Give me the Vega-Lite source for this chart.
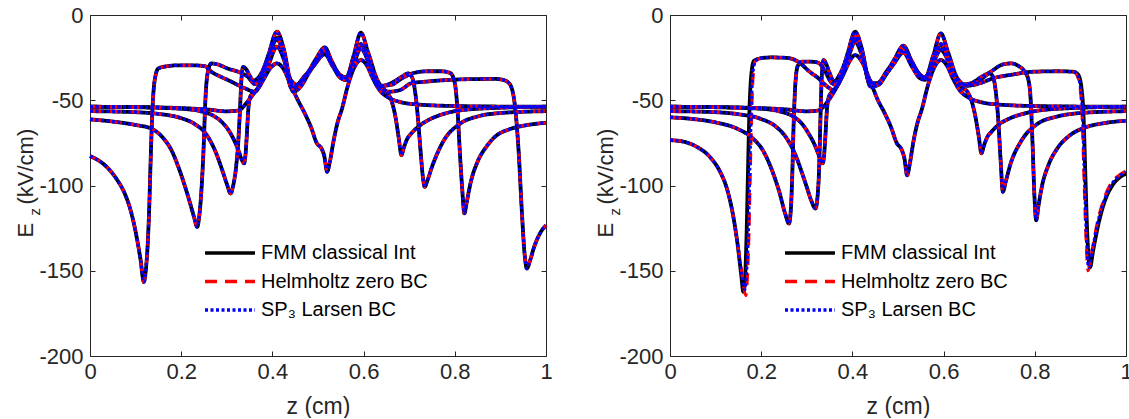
{
  "$schema": "https://vega.github.io/schema/vega-lite/v6.json",
  "padding": {"left": 14, "top": 4, "right": 0, "bottom": 0},
  "background": "white",
  "config": {
    "font": "Liberation Sans",
    "view": {"stroke": null},
    "axis": {"grid": false, "domainColor": "#262626", "tickColor": "#262626", "labelColor": "#262626", "titleColor": "#262626", "labelFont": "Liberation Sans", "titleFont": "Liberation Sans", "labelFontSize": 22, "titleFontSize": 23, "titleFontWeight": "normal", "tickSize": -5, "domainWidth": 1, "tickWidth": 1, "labelFlush": false, "labelOverlap": false}
  },
  "datasets": {
    "curves": [
      {"panel":"L","snap":0,"z":0,"fmm":-53.8,"helm":-53.8,"sp3":-53.8},
      {"panel":"L","snap":0,"z":0.1,"fmm":-54,"helm":-54,"sp3":-54},
      {"panel":"L","snap":0,"z":0.2,"fmm":-54.6,"helm":-54.6,"sp3":-54.6},
      {"panel":"L","snap":0,"z":0.26,"fmm":-55.5,"helm":-55.5,"sp3":-55.5},
      {"panel":"L","snap":0,"z":0.3,"fmm":-56.5,"helm":-56.5,"sp3":-56.5},
      {"panel":"L","snap":0,"z":0.325,"fmm":-56,"helm":-56,"sp3":-56},
      {"panel":"L","snap":0,"z":0.345,"fmm":-51,"helm":-51,"sp3":-51},
      {"panel":"L","snap":0,"z":0.362,"fmm":-45,"helm":-45,"sp3":-45},
      {"panel":"L","snap":0,"z":0.38,"fmm":-38,"helm":-38,"sp3":-38},
      {"panel":"L","snap":0,"z":0.396,"fmm":-31,"helm":-31,"sp3":-31},
      {"panel":"L","snap":0,"z":0.41,"fmm":-28.4,"helm":-28.4,"sp3":-28.4},
      {"panel":"L","snap":0,"z":0.424,"fmm":-31.5,"helm":-31.5,"sp3":-31.5},
      {"panel":"L","snap":0,"z":0.44,"fmm":-41,"helm":-41,"sp3":-41},
      {"panel":"L","snap":0,"z":0.456,"fmm":-50,"helm":-50,"sp3":-50},
      {"panel":"L","snap":0,"z":0.471,"fmm":-57.7,"helm":-57.7,"sp3":-57.7},
      {"panel":"L","snap":0,"z":0.485,"fmm":-66,"helm":-66,"sp3":-66},
      {"panel":"L","snap":0,"z":0.497,"fmm":-75,"helm":-75,"sp3":-75},
      {"panel":"L","snap":0,"z":0.508,"fmm":-78.5,"helm":-78.5,"sp3":-78.5},
      {"panel":"L","snap":0,"z":0.514,"fmm":-83,"helm":-83,"sp3":-83},
      {"panel":"L","snap":0,"z":0.52,"fmm":-92,"helm":-92,"sp3":-92},
      {"panel":"L","snap":0,"z":0.526,"fmm":-86,"helm":-86,"sp3":-86},
      {"panel":"L","snap":0,"z":0.534,"fmm":-74,"helm":-74,"sp3":-74},
      {"panel":"L","snap":0,"z":0.543,"fmm":-63,"helm":-63,"sp3":-63},
      {"panel":"L","snap":0,"z":0.552,"fmm":-55.5,"helm":-55.5,"sp3":-55.5},
      {"panel":"L","snap":0,"z":0.567,"fmm":-40,"helm":-40,"sp3":-40},
      {"panel":"L","snap":0,"z":0.58,"fmm":-30.5,"helm":-30.5,"sp3":-30.5},
      {"panel":"L","snap":0,"z":0.594,"fmm":-26.4,"helm":-26.4,"sp3":-26.4},
      {"panel":"L","snap":0,"z":0.607,"fmm":-29.5,"helm":-29.5,"sp3":-29.5},
      {"panel":"L","snap":0,"z":0.62,"fmm":-37,"helm":-37,"sp3":-37},
      {"panel":"L","snap":0,"z":0.635,"fmm":-44,"helm":-44,"sp3":-44},
      {"panel":"L","snap":0,"z":0.655,"fmm":-48.5,"helm":-48.5,"sp3":-48.5},
      {"panel":"L","snap":0,"z":0.68,"fmm":-51,"helm":-51,"sp3":-51},
      {"panel":"L","snap":0,"z":0.72,"fmm":-52.5,"helm":-52.5,"sp3":-52.5},
      {"panel":"L","snap":0,"z":0.8,"fmm":-53.4,"helm":-53.4,"sp3":-53.4},
      {"panel":"L","snap":0,"z":0.9,"fmm":-53.7,"helm":-53.7,"sp3":-53.7},
      {"panel":"L","snap":0,"z":1,"fmm":-53.8,"helm":-53.8,"sp3":-53.8},

      {"panel":"L","snap":1,"z":0,"fmm":-53.8,"helm":-53.8,"sp3":-53.8},
      {"panel":"L","snap":1,"z":0.1,"fmm":-54.1,"helm":-54.1,"sp3":-54.1},
      {"panel":"L","snap":1,"z":0.2,"fmm":-55,"helm":-55,"sp3":-55},
      {"panel":"L","snap":1,"z":0.24,"fmm":-56.3,"helm":-56.3,"sp3":-56.3},
      {"panel":"L","snap":1,"z":0.27,"fmm":-59,"helm":-59,"sp3":-59},
      {"panel":"L","snap":1,"z":0.29,"fmm":-63,"helm":-63,"sp3":-63},
      {"panel":"L","snap":1,"z":0.305,"fmm":-68,"helm":-68,"sp3":-68},
      {"panel":"L","snap":1,"z":0.317,"fmm":-74,"helm":-74,"sp3":-74},
      {"panel":"L","snap":1,"z":0.327,"fmm":-80.5,"helm":-80.5,"sp3":-80.5},
      {"panel":"L","snap":1,"z":0.333,"fmm":-85,"helm":-85,"sp3":-85},
      {"panel":"L","snap":1,"z":0.338,"fmm":-87,"helm":-87,"sp3":-87},
      {"panel":"L","snap":1,"z":0.341,"fmm":-82,"helm":-82,"sp3":-82},
      {"panel":"L","snap":1,"z":0.344,"fmm":-70,"helm":-70,"sp3":-70},
      {"panel":"L","snap":1,"z":0.347,"fmm":-56,"helm":-56,"sp3":-56},
      {"panel":"L","snap":1,"z":0.352,"fmm":-47.5,"helm":-47.5,"sp3":-47.5},
      {"panel":"L","snap":1,"z":0.362,"fmm":-45,"helm":-45,"sp3":-45},
      {"panel":"L","snap":1,"z":0.376,"fmm":-40,"helm":-40,"sp3":-40},
      {"panel":"L","snap":1,"z":0.392,"fmm":-29,"helm":-29,"sp3":-29},
      {"panel":"L","snap":1,"z":0.41,"fmm":-18.6,"helm":-18.6,"sp3":-18.6},
      {"panel":"L","snap":1,"z":0.425,"fmm":-26,"helm":-26,"sp3":-26},
      {"panel":"L","snap":1,"z":0.44,"fmm":-40,"helm":-40,"sp3":-40},
      {"panel":"L","snap":1,"z":0.452,"fmm":-41,"helm":-41,"sp3":-41},
      {"panel":"L","snap":1,"z":0.47,"fmm":-36,"helm":-36,"sp3":-36},
      {"panel":"L","snap":1,"z":0.49,"fmm":-30,"helm":-30,"sp3":-30},
      {"panel":"L","snap":1,"z":0.515,"fmm":-23,"helm":-23,"sp3":-23},
      {"panel":"L","snap":1,"z":0.532,"fmm":-30,"helm":-30,"sp3":-30},
      {"panel":"L","snap":1,"z":0.55,"fmm":-37,"helm":-37,"sp3":-37},
      {"panel":"L","snap":1,"z":0.562,"fmm":-38,"helm":-38,"sp3":-38},
      {"panel":"L","snap":1,"z":0.578,"fmm":-29,"helm":-29,"sp3":-29},
      {"panel":"L","snap":1,"z":0.594,"fmm":-19.6,"helm":-19.6,"sp3":-19.6},
      {"panel":"L","snap":1,"z":0.61,"fmm":-27,"helm":-27,"sp3":-27},
      {"panel":"L","snap":1,"z":0.625,"fmm":-37,"helm":-37,"sp3":-37},
      {"panel":"L","snap":1,"z":0.64,"fmm":-43,"helm":-43,"sp3":-43},
      {"panel":"L","snap":1,"z":0.652,"fmm":-45.5,"helm":-45.5,"sp3":-45.5},
      {"panel":"L","snap":1,"z":0.662,"fmm":-51,"helm":-51,"sp3":-51},
      {"panel":"L","snap":1,"z":0.67,"fmm":-60,"helm":-60,"sp3":-60},
      {"panel":"L","snap":1,"z":0.677,"fmm":-72,"helm":-72,"sp3":-72},
      {"panel":"L","snap":1,"z":0.683,"fmm":-82.2,"helm":-82.2,"sp3":-82.2},
      {"panel":"L","snap":1,"z":0.688,"fmm":-78,"helm":-78,"sp3":-78},
      {"panel":"L","snap":1,"z":0.695,"fmm":-73,"helm":-73,"sp3":-73},
      {"panel":"L","snap":1,"z":0.705,"fmm":-69.4,"helm":-69.4,"sp3":-69.4},
      {"panel":"L","snap":1,"z":0.72,"fmm":-65.5,"helm":-65.5,"sp3":-65.5},
      {"panel":"L","snap":1,"z":0.742,"fmm":-61.6,"helm":-61.6,"sp3":-61.6},
      {"panel":"L","snap":1,"z":0.77,"fmm":-58.5,"helm":-58.5,"sp3":-58.5},
      {"panel":"L","snap":1,"z":0.815,"fmm":-55.8,"helm":-55.8,"sp3":-55.8},
      {"panel":"L","snap":1,"z":0.9,"fmm":-54.4,"helm":-54.4,"sp3":-54.4},
      {"panel":"L","snap":1,"z":1,"fmm":-53.8,"helm":-53.8,"sp3":-53.8},

      {"panel":"L","snap":2,"z":0,"fmm":-56.4,"helm":-56.4,"sp3":-56.4},
      {"panel":"L","snap":2,"z":0.1,"fmm":-57,"helm":-57,"sp3":-57},
      {"panel":"L","snap":2,"z":0.15,"fmm":-58,"helm":-58,"sp3":-58},
      {"panel":"L","snap":2,"z":0.2,"fmm":-60.5,"helm":-60.5,"sp3":-60.5},
      {"panel":"L","snap":2,"z":0.23,"fmm":-64,"helm":-64,"sp3":-64},
      {"panel":"L","snap":2,"z":0.255,"fmm":-70,"helm":-70,"sp3":-70},
      {"panel":"L","snap":2,"z":0.275,"fmm":-80,"helm":-80,"sp3":-80},
      {"panel":"L","snap":2,"z":0.29,"fmm":-91,"helm":-91,"sp3":-91},
      {"panel":"L","snap":2,"z":0.3,"fmm":-99,"helm":-99,"sp3":-99},
      {"panel":"L","snap":2,"z":0.3085,"fmm":-104.7,"helm":-104.7,"sp3":-104.7},
      {"panel":"L","snap":2,"z":0.314,"fmm":-100,"helm":-100,"sp3":-100},
      {"panel":"L","snap":2,"z":0.32,"fmm":-90,"helm":-90,"sp3":-90},
      {"panel":"L","snap":2,"z":0.325,"fmm":-75,"helm":-75,"sp3":-75},
      {"panel":"L","snap":2,"z":0.329,"fmm":-55,"helm":-55,"sp3":-55},
      {"panel":"L","snap":2,"z":0.332,"fmm":-38,"helm":-38,"sp3":-38},
      {"panel":"L","snap":2,"z":0.336,"fmm":-30.5,"helm":-30.5,"sp3":-30.5},
      {"panel":"L","snap":2,"z":0.343,"fmm":-32,"helm":-32,"sp3":-32},
      {"panel":"L","snap":2,"z":0.35,"fmm":-35.5,"helm":-35.5,"sp3":-35.5},
      {"panel":"L","snap":2,"z":0.358,"fmm":-38.5,"helm":-38.5,"sp3":-38.5},
      {"panel":"L","snap":2,"z":0.37,"fmm":-36.5,"helm":-36.5,"sp3":-36.5},
      {"panel":"L","snap":2,"z":0.388,"fmm":-27,"helm":-27,"sp3":-27},
      {"panel":"L","snap":2,"z":0.41,"fmm":-14.3,"helm":-14.3,"sp3":-14.3},
      {"panel":"L","snap":2,"z":0.425,"fmm":-23,"helm":-23,"sp3":-23},
      {"panel":"L","snap":2,"z":0.442,"fmm":-43,"helm":-43,"sp3":-43},
      {"panel":"L","snap":2,"z":0.46,"fmm":-40,"helm":-40,"sp3":-40},
      {"panel":"L","snap":2,"z":0.48,"fmm":-33,"helm":-33,"sp3":-33},
      {"panel":"L","snap":2,"z":0.5,"fmm":-26,"helm":-26,"sp3":-26},
      {"panel":"L","snap":2,"z":0.515,"fmm":-21,"helm":-21,"sp3":-21},
      {"panel":"L","snap":2,"z":0.53,"fmm":-28.5,"helm":-28.5,"sp3":-28.5},
      {"panel":"L","snap":2,"z":0.548,"fmm":-35.5,"helm":-35.5,"sp3":-35.5},
      {"panel":"L","snap":2,"z":0.562,"fmm":-37,"helm":-37,"sp3":-37},
      {"panel":"L","snap":2,"z":0.578,"fmm":-27,"helm":-27,"sp3":-27},
      {"panel":"L","snap":2,"z":0.594,"fmm":-17.6,"helm":-17.6,"sp3":-17.6},
      {"panel":"L","snap":2,"z":0.61,"fmm":-26,"helm":-26,"sp3":-26},
      {"panel":"L","snap":2,"z":0.632,"fmm":-42,"helm":-42,"sp3":-42},
      {"panel":"L","snap":2,"z":0.66,"fmm":-40,"helm":-40,"sp3":-40},
      {"panel":"L","snap":2,"z":0.685,"fmm":-36,"helm":-36,"sp3":-36},
      {"panel":"L","snap":2,"z":0.698,"fmm":-34.2,"helm":-34.2,"sp3":-34.2},
      {"panel":"L","snap":2,"z":0.707,"fmm":-37,"helm":-37,"sp3":-37},
      {"panel":"L","snap":2,"z":0.713,"fmm":-45,"helm":-45,"sp3":-45},
      {"panel":"L","snap":2,"z":0.719,"fmm":-60,"helm":-60,"sp3":-60},
      {"panel":"L","snap":2,"z":0.725,"fmm":-80,"helm":-80,"sp3":-80},
      {"panel":"L","snap":2,"z":0.73,"fmm":-95,"helm":-95,"sp3":-95},
      {"panel":"L","snap":2,"z":0.734,"fmm":-100.8,"helm":-100.8,"sp3":-100.8},
      {"panel":"L","snap":2,"z":0.74,"fmm":-97,"helm":-97,"sp3":-97},
      {"panel":"L","snap":2,"z":0.75,"fmm":-89,"helm":-89,"sp3":-89},
      {"panel":"L","snap":2,"z":0.775,"fmm":-74,"helm":-74,"sp3":-74},
      {"panel":"L","snap":2,"z":0.81,"fmm":-64,"helm":-64,"sp3":-64},
      {"panel":"L","snap":2,"z":0.85,"fmm":-59.5,"helm":-59.5,"sp3":-59.5},
      {"panel":"L","snap":2,"z":0.9,"fmm":-57.5,"helm":-57.5,"sp3":-57.5},
      {"panel":"L","snap":2,"z":1,"fmm":-56.4,"helm":-56.4,"sp3":-56.4},

      {"panel":"L","snap":3,"z":0,"fmm":-61.2,"helm":-61.2,"sp3":-61.2},
      {"panel":"L","snap":3,"z":0.05,"fmm":-62.5,"helm":-62.5,"sp3":-62.5},
      {"panel":"L","snap":3,"z":0.1,"fmm":-64.5,"helm":-64.5,"sp3":-64.5},
      {"panel":"L","snap":3,"z":0.133,"fmm":-66.5,"helm":-66.5,"sp3":-66.5},
      {"panel":"L","snap":3,"z":0.16,"fmm":-72,"helm":-72,"sp3":-72},
      {"panel":"L","snap":3,"z":0.18,"fmm":-80,"helm":-80,"sp3":-80},
      {"panel":"L","snap":3,"z":0.195,"fmm":-90,"helm":-90,"sp3":-90},
      {"panel":"L","snap":3,"z":0.206,"fmm":-98.6,"helm":-98.6,"sp3":-98.6},
      {"panel":"L","snap":3,"z":0.218,"fmm":-109,"helm":-109,"sp3":-109},
      {"panel":"L","snap":3,"z":0.228,"fmm":-118.4,"helm":-118.4,"sp3":-118.4},
      {"panel":"L","snap":3,"z":0.235,"fmm":-124.3,"helm":-124.3,"sp3":-124.3},
      {"panel":"L","snap":3,"z":0.24,"fmm":-117,"helm":-117,"sp3":-117},
      {"panel":"L","snap":3,"z":0.245,"fmm":-100,"helm":-100,"sp3":-100},
      {"panel":"L","snap":3,"z":0.249,"fmm":-79,"helm":-79,"sp3":-79},
      {"panel":"L","snap":3,"z":0.253,"fmm":-50,"helm":-50,"sp3":-50},
      {"panel":"L","snap":3,"z":0.258,"fmm":-34,"helm":-34,"sp3":-34},
      {"panel":"L","snap":3,"z":0.266,"fmm":-28.4,"helm":-28.4,"sp3":-28.4},
      {"panel":"L","snap":3,"z":0.28,"fmm":-29,"helm":-29,"sp3":-29},
      {"panel":"L","snap":3,"z":0.303,"fmm":-31.5,"helm":-31.5,"sp3":-31.5},
      {"panel":"L","snap":3,"z":0.325,"fmm":-33.3,"helm":-33.3,"sp3":-33.3},
      {"panel":"L","snap":3,"z":0.345,"fmm":-36,"helm":-36,"sp3":-36},
      {"panel":"L","snap":3,"z":0.362,"fmm":-40.5,"helm":-40.5,"sp3":-40.5},
      {"panel":"L","snap":3,"z":0.376,"fmm":-35,"helm":-35,"sp3":-35},
      {"panel":"L","snap":3,"z":0.392,"fmm":-23,"helm":-23,"sp3":-23},
      {"panel":"L","snap":3,"z":0.41,"fmm":-13.5,"helm":-13.5,"sp3":-13.5},
      {"panel":"L","snap":3,"z":0.425,"fmm":-22,"helm":-22,"sp3":-22},
      {"panel":"L","snap":3,"z":0.446,"fmm":-45,"helm":-45,"sp3":-45},
      {"panel":"L","snap":3,"z":0.462,"fmm":-42,"helm":-42,"sp3":-42},
      {"panel":"L","snap":3,"z":0.48,"fmm":-34,"helm":-34,"sp3":-34},
      {"panel":"L","snap":3,"z":0.5,"fmm":-26,"helm":-26,"sp3":-26},
      {"panel":"L","snap":3,"z":0.515,"fmm":-20,"helm":-20,"sp3":-20},
      {"panel":"L","snap":3,"z":0.53,"fmm":-28,"helm":-28,"sp3":-28},
      {"panel":"L","snap":3,"z":0.548,"fmm":-36,"helm":-36,"sp3":-36},
      {"panel":"L","snap":3,"z":0.56,"fmm":-38,"helm":-38,"sp3":-38},
      {"panel":"L","snap":3,"z":0.577,"fmm":-28,"helm":-28,"sp3":-28},
      {"panel":"L","snap":3,"z":0.594,"fmm":-17,"helm":-17,"sp3":-17},
      {"panel":"L","snap":3,"z":0.61,"fmm":-27,"helm":-27,"sp3":-27},
      {"panel":"L","snap":3,"z":0.635,"fmm":-41.5,"helm":-41.5,"sp3":-41.5},
      {"panel":"L","snap":3,"z":0.66,"fmm":-41,"helm":-41,"sp3":-41},
      {"panel":"L","snap":3,"z":0.685,"fmm":-37,"helm":-37,"sp3":-37},
      {"panel":"L","snap":3,"z":0.71,"fmm":-34,"helm":-34,"sp3":-34},
      {"panel":"L","snap":3,"z":0.74,"fmm":-33,"helm":-33,"sp3":-33},
      {"panel":"L","snap":3,"z":0.77,"fmm":-33,"helm":-33,"sp3":-33},
      {"panel":"L","snap":3,"z":0.79,"fmm":-34,"helm":-34,"sp3":-34},
      {"panel":"L","snap":3,"z":0.8,"fmm":-40,"helm":-40,"sp3":-40},
      {"panel":"L","snap":3,"z":0.806,"fmm":-56,"helm":-56,"sp3":-56},
      {"panel":"L","snap":3,"z":0.811,"fmm":-80,"helm":-80,"sp3":-80},
      {"panel":"L","snap":3,"z":0.816,"fmm":-101,"helm":-101,"sp3":-101},
      {"panel":"L","snap":3,"z":0.821,"fmm":-116.4,"helm":-116.4,"sp3":-116.4},
      {"panel":"L","snap":3,"z":0.826,"fmm":-110,"helm":-110,"sp3":-110},
      {"panel":"L","snap":3,"z":0.835,"fmm":-98,"helm":-98,"sp3":-98},
      {"panel":"L","snap":3,"z":0.85,"fmm":-86,"helm":-86,"sp3":-86},
      {"panel":"L","snap":3,"z":0.87,"fmm":-77,"helm":-77,"sp3":-77},
      {"panel":"L","snap":3,"z":0.89,"fmm":-71,"helm":-71,"sp3":-71},
      {"panel":"L","snap":3,"z":0.92,"fmm":-67,"helm":-67,"sp3":-67},
      {"panel":"L","snap":3,"z":0.96,"fmm":-64.5,"helm":-64.5,"sp3":-64.5},
      {"panel":"L","snap":3,"z":1,"fmm":-63.2,"helm":-63.2,"sp3":-63.2},

      {"panel":"L","snap":4,"z":0,"fmm":-82.8,"helm":-82.8,"sp3":-82.8},
      {"panel":"L","snap":4,"z":0.02,"fmm":-85.5,"helm":-85.5,"sp3":-85.5},
      {"panel":"L","snap":4,"z":0.04,"fmm":-90,"helm":-90,"sp3":-90},
      {"panel":"L","snap":4,"z":0.06,"fmm":-96.9,"helm":-96.9,"sp3":-96.9},
      {"panel":"L","snap":4,"z":0.075,"fmm":-104,"helm":-104,"sp3":-104},
      {"panel":"L","snap":4,"z":0.089,"fmm":-114.5,"helm":-114.5,"sp3":-114.5},
      {"panel":"L","snap":4,"z":0.1,"fmm":-127,"helm":-127,"sp3":-127},
      {"panel":"L","snap":4,"z":0.111,"fmm":-143.8,"helm":-143.8,"sp3":-143.8},
      {"panel":"L","snap":4,"z":0.118,"fmm":-156.6,"helm":-156.6,"sp3":-156.6},
      {"panel":"L","snap":4,"z":0.123,"fmm":-148,"helm":-148,"sp3":-148},
      {"panel":"L","snap":4,"z":0.127,"fmm":-132,"helm":-132,"sp3":-132},
      {"panel":"L","snap":4,"z":0.13,"fmm":-112,"helm":-112,"sp3":-112},
      {"panel":"L","snap":4,"z":0.133,"fmm":-85,"helm":-85,"sp3":-85},
      {"panel":"L","snap":4,"z":0.137,"fmm":-55,"helm":-55,"sp3":-55},
      {"panel":"L","snap":4,"z":0.142,"fmm":-38,"helm":-38,"sp3":-38},
      {"panel":"L","snap":4,"z":0.15,"fmm":-31.3,"helm":-31.3,"sp3":-31.3},
      {"panel":"L","snap":4,"z":0.17,"fmm":-30,"helm":-30,"sp3":-30},
      {"panel":"L","snap":4,"z":0.194,"fmm":-29.5,"helm":-29.5,"sp3":-29.5},
      {"panel":"L","snap":4,"z":0.225,"fmm":-29.5,"helm":-29.5,"sp3":-29.5},
      {"panel":"L","snap":4,"z":0.252,"fmm":-30,"helm":-30,"sp3":-30},
      {"panel":"L","snap":4,"z":0.266,"fmm":-33.3,"helm":-33.3,"sp3":-33.3},
      {"panel":"L","snap":4,"z":0.285,"fmm":-36,"helm":-36,"sp3":-36},
      {"panel":"L","snap":4,"z":0.303,"fmm":-38.2,"helm":-38.2,"sp3":-38.2},
      {"panel":"L","snap":4,"z":0.34,"fmm":-43,"helm":-43,"sp3":-43},
      {"panel":"L","snap":4,"z":0.361,"fmm":-45,"helm":-45,"sp3":-45},
      {"panel":"L","snap":4,"z":0.376,"fmm":-39,"helm":-39,"sp3":-39},
      {"panel":"L","snap":4,"z":0.392,"fmm":-23,"helm":-23,"sp3":-23},
      {"panel":"L","snap":4,"z":0.41,"fmm":-9.8,"helm":-9.8,"sp3":-9.8},
      {"panel":"L","snap":4,"z":0.425,"fmm":-20,"helm":-20,"sp3":-20},
      {"panel":"L","snap":4,"z":0.44,"fmm":-38,"helm":-38,"sp3":-38},
      {"panel":"L","snap":4,"z":0.455,"fmm":-41,"helm":-41,"sp3":-41},
      {"panel":"L","snap":4,"z":0.475,"fmm":-35,"helm":-35,"sp3":-35},
      {"panel":"L","snap":4,"z":0.495,"fmm":-26,"helm":-26,"sp3":-26},
      {"panel":"L","snap":4,"z":0.515,"fmm":-19,"helm":-19,"sp3":-19},
      {"panel":"L","snap":4,"z":0.53,"fmm":-27,"helm":-27,"sp3":-27},
      {"panel":"L","snap":4,"z":0.548,"fmm":-35,"helm":-35,"sp3":-35},
      {"panel":"L","snap":4,"z":0.562,"fmm":-36.5,"helm":-36.5,"sp3":-36.5},
      {"panel":"L","snap":4,"z":0.578,"fmm":-24,"helm":-24,"sp3":-24},
      {"panel":"L","snap":4,"z":0.594,"fmm":-10.4,"helm":-10.4,"sp3":-10.4},
      {"panel":"L","snap":4,"z":0.61,"fmm":-22,"helm":-22,"sp3":-22},
      {"panel":"L","snap":4,"z":0.63,"fmm":-38,"helm":-38,"sp3":-38},
      {"panel":"L","snap":4,"z":0.655,"fmm":-45,"helm":-45,"sp3":-45},
      {"panel":"L","snap":4,"z":0.68,"fmm":-44,"helm":-44,"sp3":-44},
      {"panel":"L","snap":4,"z":0.705,"fmm":-40,"helm":-40,"sp3":-40},
      {"panel":"L","snap":4,"z":0.74,"fmm":-39,"helm":-39,"sp3":-39},
      {"panel":"L","snap":4,"z":0.778,"fmm":-38.2,"helm":-38.2,"sp3":-38.2},
      {"panel":"L","snap":4,"z":0.84,"fmm":-37.6,"helm":-37.6,"sp3":-37.6},
      {"panel":"L","snap":4,"z":0.888,"fmm":-37.5,"helm":-37.5,"sp3":-37.5},
      {"panel":"L","snap":4,"z":0.905,"fmm":-38,"helm":-38,"sp3":-38},
      {"panel":"L","snap":4,"z":0.917,"fmm":-39.5,"helm":-39.5,"sp3":-39.5},
      {"panel":"L","snap":4,"z":0.926,"fmm":-44,"helm":-44,"sp3":-44},
      {"panel":"L","snap":4,"z":0.933,"fmm":-56,"helm":-56,"sp3":-56},
      {"panel":"L","snap":4,"z":0.94,"fmm":-80,"helm":-80,"sp3":-80},
      {"panel":"L","snap":4,"z":0.947,"fmm":-115,"helm":-115,"sp3":-115},
      {"panel":"L","snap":4,"z":0.953,"fmm":-140,"helm":-140,"sp3":-140},
      {"panel":"L","snap":4,"z":0.958,"fmm":-148.7,"helm":-148.7,"sp3":-148.7},
      {"panel":"L","snap":4,"z":0.965,"fmm":-144,"helm":-144,"sp3":-144},
      {"panel":"L","snap":4,"z":0.974,"fmm":-136,"helm":-136,"sp3":-136},
      {"panel":"L","snap":4,"z":0.987,"fmm":-128,"helm":-128,"sp3":-128},
      {"panel":"L","snap":4,"z":1,"fmm":-123.3,"helm":-123.3,"sp3":-123.3},

      {"panel":"R","snap":0,"z":0,"fmm":-53.8,"helm":-53.8,"sp3":-53.8},
      {"panel":"R","snap":0,"z":0.1,"fmm":-54,"helm":-54,"sp3":-54},
      {"panel":"R","snap":0,"z":0.2,"fmm":-54.6,"helm":-54.6,"sp3":-54.6},
      {"panel":"R","snap":0,"z":0.26,"fmm":-55.5,"helm":-55.5,"sp3":-55.5},
      {"panel":"R","snap":0,"z":0.3,"fmm":-56.5,"helm":-56.5,"sp3":-56.5},
      {"panel":"R","snap":0,"z":0.325,"fmm":-56,"helm":-56,"sp3":-56},
      {"panel":"R","snap":0,"z":0.345,"fmm":-51,"helm":-51,"sp3":-51},
      {"panel":"R","snap":0,"z":0.362,"fmm":-44,"helm":-44,"sp3":-44},
      {"panel":"R","snap":0,"z":0.38,"fmm":-35,"helm":-35,"sp3":-35},
      {"panel":"R","snap":0,"z":0.394,"fmm":-27,"helm":-27,"sp3":-27},
      {"panel":"R","snap":0,"z":0.406,"fmm":-23.5,"helm":-23.5,"sp3":-23.5},
      {"panel":"R","snap":0,"z":0.42,"fmm":-27,"helm":-27,"sp3":-27},
      {"panel":"R","snap":0,"z":0.438,"fmm":-38,"helm":-38,"sp3":-38},
      {"panel":"R","snap":0,"z":0.456,"fmm":-50,"helm":-50,"sp3":-50},
      {"panel":"R","snap":0,"z":0.471,"fmm":-57.7,"helm":-57.7,"sp3":-57.7},
      {"panel":"R","snap":0,"z":0.485,"fmm":-66,"helm":-66,"sp3":-66},
      {"panel":"R","snap":0,"z":0.497,"fmm":-75,"helm":-75,"sp3":-75},
      {"panel":"R","snap":0,"z":0.508,"fmm":-79,"helm":-79,"sp3":-79},
      {"panel":"R","snap":0,"z":0.514,"fmm":-84,"helm":-84,"sp3":-84},
      {"panel":"R","snap":0,"z":0.52,"fmm":-94,"helm":-94,"sp3":-94},
      {"panel":"R","snap":0,"z":0.526,"fmm":-87,"helm":-87,"sp3":-87},
      {"panel":"R","snap":0,"z":0.534,"fmm":-74,"helm":-74,"sp3":-74},
      {"panel":"R","snap":0,"z":0.543,"fmm":-63,"helm":-63,"sp3":-63},
      {"panel":"R","snap":0,"z":0.552,"fmm":-55.5,"helm":-55.5,"sp3":-55.5},
      {"panel":"R","snap":0,"z":0.567,"fmm":-40,"helm":-40,"sp3":-40},
      {"panel":"R","snap":0,"z":0.58,"fmm":-30.5,"helm":-30.5,"sp3":-30.5},
      {"panel":"R","snap":0,"z":0.594,"fmm":-26.4,"helm":-26.4,"sp3":-26.4},
      {"panel":"R","snap":0,"z":0.607,"fmm":-29.5,"helm":-29.5,"sp3":-29.5},
      {"panel":"R","snap":0,"z":0.62,"fmm":-37,"helm":-37,"sp3":-37},
      {"panel":"R","snap":0,"z":0.635,"fmm":-44,"helm":-44,"sp3":-44},
      {"panel":"R","snap":0,"z":0.655,"fmm":-48.5,"helm":-48.5,"sp3":-48.5},
      {"panel":"R","snap":0,"z":0.68,"fmm":-51,"helm":-51,"sp3":-51},
      {"panel":"R","snap":0,"z":0.72,"fmm":-52.5,"helm":-52.5,"sp3":-52.5},
      {"panel":"R","snap":0,"z":0.8,"fmm":-53.4,"helm":-53.4,"sp3":-53.4},
      {"panel":"R","snap":0,"z":0.9,"fmm":-53.7,"helm":-53.7,"sp3":-53.7},
      {"panel":"R","snap":0,"z":1,"fmm":-53.8,"helm":-53.8,"sp3":-53.8},

      {"panel":"R","snap":1,"z":0,"fmm":-53.8,"helm":-53.8,"sp3":-53.8},
      {"panel":"R","snap":1,"z":0.1,"fmm":-54.1,"helm":-54.1,"sp3":-54.1},
      {"panel":"R","snap":1,"z":0.2,"fmm":-55,"helm":-55,"sp3":-55},
      {"panel":"R","snap":1,"z":0.24,"fmm":-56.5,"helm":-56.5,"sp3":-56.5},
      {"panel":"R","snap":1,"z":0.27,"fmm":-59.5,"helm":-59.5,"sp3":-59.5},
      {"panel":"R","snap":1,"z":0.29,"fmm":-64,"helm":-64,"sp3":-64},
      {"panel":"R","snap":1,"z":0.305,"fmm":-70,"helm":-70,"sp3":-70},
      {"panel":"R","snap":1,"z":0.317,"fmm":-76,"helm":-76,"sp3":-76},
      {"panel":"R","snap":1,"z":0.326,"fmm":-82,"helm":-82,"sp3":-82},
      {"panel":"R","snap":1,"z":0.331,"fmm":-85.5,"helm":-85.5,"sp3":-85.5},
      {"panel":"R","snap":1,"z":0.335,"fmm":-87,"helm":-87,"sp3":-87},
      {"panel":"R","snap":1,"z":0.338,"fmm":-82,"helm":-82,"sp3":-82},
      {"panel":"R","snap":1,"z":0.341,"fmm":-70,"helm":-70,"sp3":-70},
      {"panel":"R","snap":1,"z":0.344,"fmm":-56,"helm":-56,"sp3":-56},
      {"panel":"R","snap":1,"z":0.349,"fmm":-47.5,"helm":-47.5,"sp3":-47.5},
      {"panel":"R","snap":1,"z":0.358,"fmm":-44.5,"helm":-44.5,"sp3":-44.5},
      {"panel":"R","snap":1,"z":0.372,"fmm":-39,"helm":-39,"sp3":-39},
      {"panel":"R","snap":1,"z":0.39,"fmm":-26,"helm":-26,"sp3":-26},
      {"panel":"R","snap":1,"z":0.406,"fmm":-15.7,"helm":-15.7,"sp3":-15.7},
      {"panel":"R","snap":1,"z":0.42,"fmm":-23,"helm":-23,"sp3":-23},
      {"panel":"R","snap":1,"z":0.437,"fmm":-39,"helm":-39,"sp3":-39},
      {"panel":"R","snap":1,"z":0.45,"fmm":-41,"helm":-41,"sp3":-41},
      {"panel":"R","snap":1,"z":0.47,"fmm":-36,"helm":-36,"sp3":-36},
      {"panel":"R","snap":1,"z":0.49,"fmm":-29,"helm":-29,"sp3":-29},
      {"panel":"R","snap":1,"z":0.512,"fmm":-22,"helm":-22,"sp3":-22},
      {"panel":"R","snap":1,"z":0.53,"fmm":-30,"helm":-30,"sp3":-30},
      {"panel":"R","snap":1,"z":0.548,"fmm":-37,"helm":-37,"sp3":-37},
      {"panel":"R","snap":1,"z":0.56,"fmm":-38,"helm":-38,"sp3":-38},
      {"panel":"R","snap":1,"z":0.576,"fmm":-29,"helm":-29,"sp3":-29},
      {"panel":"R","snap":1,"z":0.594,"fmm":-20.5,"helm":-20.5,"sp3":-20.5},
      {"panel":"R","snap":1,"z":0.61,"fmm":-27,"helm":-27,"sp3":-27},
      {"panel":"R","snap":1,"z":0.625,"fmm":-37,"helm":-37,"sp3":-37},
      {"panel":"R","snap":1,"z":0.64,"fmm":-42.5,"helm":-42.5,"sp3":-42.5},
      {"panel":"R","snap":1,"z":0.652,"fmm":-45,"helm":-45,"sp3":-45},
      {"panel":"R","snap":1,"z":0.662,"fmm":-51,"helm":-51,"sp3":-51},
      {"panel":"R","snap":1,"z":0.67,"fmm":-60,"helm":-60,"sp3":-60},
      {"panel":"R","snap":1,"z":0.677,"fmm":-71,"helm":-71,"sp3":-71},
      {"panel":"R","snap":1,"z":0.683,"fmm":-81.2,"helm":-81.2,"sp3":-81.2},
      {"panel":"R","snap":1,"z":0.688,"fmm":-77,"helm":-77,"sp3":-77},
      {"panel":"R","snap":1,"z":0.695,"fmm":-72,"helm":-72,"sp3":-72},
      {"panel":"R","snap":1,"z":0.705,"fmm":-68.5,"helm":-68.5,"sp3":-68.5},
      {"panel":"R","snap":1,"z":0.72,"fmm":-64.5,"helm":-64.5,"sp3":-64.5},
      {"panel":"R","snap":1,"z":0.742,"fmm":-61,"helm":-61,"sp3":-61},
      {"panel":"R","snap":1,"z":0.77,"fmm":-58.3,"helm":-58.3,"sp3":-58.3},
      {"panel":"R","snap":1,"z":0.815,"fmm":-55.8,"helm":-55.8,"sp3":-55.8},
      {"panel":"R","snap":1,"z":0.9,"fmm":-54.4,"helm":-54.4,"sp3":-54.4},
      {"panel":"R","snap":1,"z":1,"fmm":-53.8,"helm":-53.8,"sp3":-53.8},

      {"panel":"R","snap":2,"z":0,"fmm":-56.4,"helm":-56.4,"sp3":-56.4},
      {"panel":"R","snap":2,"z":0.1,"fmm":-57,"helm":-57,"sp3":-57},
      {"panel":"R","snap":2,"z":0.15,"fmm":-58.2,"helm":-58.2,"sp3":-58.2},
      {"panel":"R","snap":2,"z":0.2,"fmm":-61,"helm":-61,"sp3":-61},
      {"panel":"R","snap":2,"z":0.23,"fmm":-65,"helm":-65,"sp3":-65},
      {"panel":"R","snap":2,"z":0.255,"fmm":-72,"helm":-72,"sp3":-72},
      {"panel":"R","snap":2,"z":0.275,"fmm":-82,"helm":-82,"sp3":-82},
      {"panel":"R","snap":2,"z":0.29,"fmm":-93,"helm":-93,"sp3":-93},
      {"panel":"R","snap":2,"z":0.3,"fmm":-101,"helm":-101,"sp3":-101},
      {"panel":"R","snap":2,"z":0.31,"fmm":-109,"helm":-109,"sp3":-109},
      {"panel":"R","snap":2,"z":0.319,"fmm":-113.5,"helm":-113.5,"sp3":-113.5},
      {"panel":"R","snap":2,"z":0.323,"fmm":-108,"helm":-108,"sp3":-108},
      {"panel":"R","snap":2,"z":0.327,"fmm":-90,"helm":-90,"sp3":-90},
      {"panel":"R","snap":2,"z":0.33,"fmm":-60,"helm":-60,"sp3":-60},
      {"panel":"R","snap":2,"z":0.333,"fmm":-35,"helm":-35,"sp3":-35},
      {"panel":"R","snap":2,"z":0.337,"fmm":-26.4,"helm":-26.4,"sp3":-26.4},
      {"panel":"R","snap":2,"z":0.343,"fmm":-29,"helm":-29,"sp3":-29},
      {"panel":"R","snap":2,"z":0.35,"fmm":-34,"helm":-34,"sp3":-34},
      {"panel":"R","snap":2,"z":0.36,"fmm":-39,"helm":-39,"sp3":-39},
      {"panel":"R","snap":2,"z":0.372,"fmm":-35,"helm":-35,"sp3":-35},
      {"panel":"R","snap":2,"z":0.388,"fmm":-25,"helm":-25,"sp3":-25},
      {"panel":"R","snap":2,"z":0.406,"fmm":-13.7,"helm":-13.7,"sp3":-13.7},
      {"panel":"R","snap":2,"z":0.42,"fmm":-21,"helm":-21,"sp3":-21},
      {"panel":"R","snap":2,"z":0.438,"fmm":-40,"helm":-40,"sp3":-40},
      {"panel":"R","snap":2,"z":0.455,"fmm":-40,"helm":-40,"sp3":-40},
      {"panel":"R","snap":2,"z":0.475,"fmm":-33,"helm":-33,"sp3":-33},
      {"panel":"R","snap":2,"z":0.495,"fmm":-26,"helm":-26,"sp3":-26},
      {"panel":"R","snap":2,"z":0.512,"fmm":-20.5,"helm":-20.5,"sp3":-20.5},
      {"panel":"R","snap":2,"z":0.53,"fmm":-28.5,"helm":-28.5,"sp3":-28.5},
      {"panel":"R","snap":2,"z":0.548,"fmm":-35.5,"helm":-35.5,"sp3":-35.5},
      {"panel":"R","snap":2,"z":0.56,"fmm":-37,"helm":-37,"sp3":-37},
      {"panel":"R","snap":2,"z":0.576,"fmm":-27,"helm":-27,"sp3":-27},
      {"panel":"R","snap":2,"z":0.594,"fmm":-17.6,"helm":-17.6,"sp3":-17.6},
      {"panel":"R","snap":2,"z":0.61,"fmm":-25,"helm":-25,"sp3":-25},
      {"panel":"R","snap":2,"z":0.632,"fmm":-41,"helm":-41,"sp3":-41},
      {"panel":"R","snap":2,"z":0.66,"fmm":-40,"helm":-40,"sp3":-40},
      {"panel":"R","snap":2,"z":0.685,"fmm":-36,"helm":-36,"sp3":-36},
      {"panel":"R","snap":2,"z":0.7,"fmm":-34.2,"helm":-34.2,"sp3":-34.2},
      {"panel":"R","snap":2,"z":0.708,"fmm":-36,"helm":-36,"sp3":-36},
      {"panel":"R","snap":2,"z":0.714,"fmm":-44,"helm":-44,"sp3":-44},
      {"panel":"R","snap":2,"z":0.72,"fmm":-62,"helm":-62,"sp3":-62},
      {"panel":"R","snap":2,"z":0.725,"fmm":-85,"helm":-85,"sp3":-85},
      {"panel":"R","snap":2,"z":0.73,"fmm":-103.7,"helm":-103.7,"sp3":-103.7},
      {"panel":"R","snap":2,"z":0.736,"fmm":-98,"helm":-98,"sp3":-98},
      {"panel":"R","snap":2,"z":0.746,"fmm":-88,"helm":-88,"sp3":-88},
      {"panel":"R","snap":2,"z":0.77,"fmm":-74,"helm":-74,"sp3":-74},
      {"panel":"R","snap":2,"z":0.805,"fmm":-64,"helm":-64,"sp3":-64},
      {"panel":"R","snap":2,"z":0.85,"fmm":-59.5,"helm":-59.5,"sp3":-59.5},
      {"panel":"R","snap":2,"z":0.9,"fmm":-57.5,"helm":-57.5,"sp3":-57.5},
      {"panel":"R","snap":2,"z":1,"fmm":-56.4,"helm":-56.4,"sp3":-56.4},

      {"panel":"R","snap":3,"z":0,"fmm":-60,"helm":-60,"sp3":-60},
      {"panel":"R","snap":3,"z":0.05,"fmm":-61,"helm":-61,"sp3":-61},
      {"panel":"R","snap":3,"z":0.1,"fmm":-63,"helm":-63,"sp3":-63},
      {"panel":"R","snap":3,"z":0.15,"fmm":-67,"helm":-67,"sp3":-67},
      {"panel":"R","snap":3,"z":0.18,"fmm":-72,"helm":-72,"sp3":-72},
      {"panel":"R","snap":3,"z":0.205,"fmm":-80,"helm":-80,"sp3":-80},
      {"panel":"R","snap":3,"z":0.225,"fmm":-92,"helm":-92,"sp3":-92},
      {"panel":"R","snap":3,"z":0.24,"fmm":-104,"helm":-104,"sp3":-104},
      {"panel":"R","snap":3,"z":0.252,"fmm":-116,"helm":-116,"sp3":-116},
      {"panel":"R","snap":3,"z":0.261,"fmm":-122.3,"helm":-122.3,"sp3":-122.3},
      {"panel":"R","snap":3,"z":0.265,"fmm":-114,"helm":-114,"sp3":-114},
      {"panel":"R","snap":3,"z":0.268,"fmm":-95,"helm":-95,"sp3":-95},
      {"panel":"R","snap":3,"z":0.271,"fmm":-65,"helm":-65,"sp3":-65},
      {"panel":"R","snap":3,"z":0.275,"fmm":-40,"helm":-40,"sp3":-40},
      {"panel":"R","snap":3,"z":0.28,"fmm":-30,"helm":-30,"sp3":-30},
      {"panel":"R","snap":3,"z":0.289,"fmm":-27.4,"helm":-27.4,"sp3":-27.4},
      {"panel":"R","snap":3,"z":0.31,"fmm":-27.4,"helm":-27.4,"sp3":-27.4},
      {"panel":"R","snap":3,"z":0.325,"fmm":-28,"helm":-28,"sp3":-28},
      {"panel":"R","snap":3,"z":0.34,"fmm":-33,"helm":-33,"sp3":-33},
      {"panel":"R","snap":3,"z":0.355,"fmm":-40,"helm":-40,"sp3":-40},
      {"panel":"R","snap":3,"z":0.366,"fmm":-41,"helm":-41,"sp3":-41},
      {"panel":"R","snap":3,"z":0.38,"fmm":-33,"helm":-33,"sp3":-33},
      {"panel":"R","snap":3,"z":0.394,"fmm":-21,"helm":-21,"sp3":-21},
      {"panel":"R","snap":3,"z":0.406,"fmm":-12.5,"helm":-12.5,"sp3":-12.5},
      {"panel":"R","snap":3,"z":0.42,"fmm":-20,"helm":-20,"sp3":-20},
      {"panel":"R","snap":3,"z":0.44,"fmm":-42,"helm":-42,"sp3":-42},
      {"panel":"R","snap":3,"z":0.457,"fmm":-41,"helm":-41,"sp3":-41},
      {"panel":"R","snap":3,"z":0.476,"fmm":-34,"helm":-34,"sp3":-34},
      {"panel":"R","snap":3,"z":0.495,"fmm":-26,"helm":-26,"sp3":-26},
      {"panel":"R","snap":3,"z":0.512,"fmm":-19,"helm":-19,"sp3":-19},
      {"panel":"R","snap":3,"z":0.53,"fmm":-27.5,"helm":-27.5,"sp3":-27.5},
      {"panel":"R","snap":3,"z":0.548,"fmm":-35,"helm":-35,"sp3":-35},
      {"panel":"R","snap":3,"z":0.56,"fmm":-37,"helm":-37,"sp3":-37},
      {"panel":"R","snap":3,"z":0.576,"fmm":-27,"helm":-27,"sp3":-27},
      {"panel":"R","snap":3,"z":0.594,"fmm":-17,"helm":-17,"sp3":-17},
      {"panel":"R","snap":3,"z":0.61,"fmm":-26,"helm":-26,"sp3":-26},
      {"panel":"R","snap":3,"z":0.632,"fmm":-40,"helm":-40,"sp3":-40},
      {"panel":"R","snap":3,"z":0.655,"fmm":-41,"helm":-41,"sp3":-41},
      {"panel":"R","snap":3,"z":0.68,"fmm":-38,"helm":-38,"sp3":-38},
      {"panel":"R","snap":3,"z":0.705,"fmm":-33,"helm":-33,"sp3":-33},
      {"panel":"R","snap":3,"z":0.73,"fmm":-29,"helm":-29,"sp3":-29},
      {"panel":"R","snap":3,"z":0.749,"fmm":-28.4,"helm":-28.4,"sp3":-28.4},
      {"panel":"R","snap":3,"z":0.765,"fmm":-30,"helm":-30,"sp3":-30},
      {"panel":"R","snap":3,"z":0.778,"fmm":-33.3,"helm":-33.3,"sp3":-33.3},
      {"panel":"R","snap":3,"z":0.786,"fmm":-38,"helm":-38,"sp3":-38},
      {"panel":"R","snap":3,"z":0.791,"fmm":-50,"helm":-50,"sp3":-50},
      {"panel":"R","snap":3,"z":0.795,"fmm":-75,"helm":-75,"sp3":-75},
      {"panel":"R","snap":3,"z":0.799,"fmm":-105,"helm":-105,"sp3":-105},
      {"panel":"R","snap":3,"z":0.803,"fmm":-120.4,"helm":-120.4,"sp3":-120.4},
      {"panel":"R","snap":3,"z":0.808,"fmm":-112,"helm":-112,"sp3":-112},
      {"panel":"R","snap":3,"z":0.816,"fmm":-100,"helm":-100,"sp3":-100},
      {"panel":"R","snap":3,"z":0.83,"fmm":-88,"helm":-88,"sp3":-88},
      {"panel":"R","snap":3,"z":0.85,"fmm":-78,"helm":-78,"sp3":-78},
      {"panel":"R","snap":3,"z":0.875,"fmm":-71,"helm":-71,"sp3":-71},
      {"panel":"R","snap":3,"z":0.91,"fmm":-66,"helm":-66,"sp3":-66},
      {"panel":"R","snap":3,"z":0.95,"fmm":-63.5,"helm":-63.5,"sp3":-63.5},
      {"panel":"R","snap":3,"z":1,"fmm":-62,"helm":-62,"sp3":-62},

      {"panel":"R","snap":4,"z":0,"fmm":-73.4,"helm":-73.4,"sp3":-73.4},
      {"panel":"R","snap":4,"z":0.03,"fmm":-74.3,"helm":-74.3,"sp3":-74.3},
      {"panel":"R","snap":4,"z":0.06,"fmm":-77.5,"helm":-77.5,"sp3":-77.5},
      {"panel":"R","snap":4,"z":0.09,"fmm":-84,"helm":-84,"sp3":-84},
      {"panel":"R","snap":4,"z":0.11,"fmm":-92,"helm":-92,"sp3":-92},
      {"panel":"R","snap":4,"z":0.125,"fmm":-102,"helm":-102,"sp3":-102},
      {"panel":"R","snap":4,"z":0.138,"fmm":-117,"helm":-117,"sp3":-117},
      {"panel":"R","snap":4,"z":0.148,"fmm":-134,"helm":-134,"sp3":-134},
      {"panel":"R","snap":4,"z":0.156,"fmm":-152,"helm":null,"sp3":null},
      {"panel":"R","snap":4,"z":0.161,"fmm":-162.4,"helm":null,"sp3":null},
      {"panel":"R","snap":4,"z":0.165,"fmm":-152,"helm":null,"sp3":null},
      {"panel":"R","snap":4,"z":0.168,"fmm":-128,"helm":null,"sp3":null},
      {"panel":"R","snap":4,"z":0.171,"fmm":-92,"helm":null,"sp3":null},
      {"panel":"R","snap":4,"z":0.174,"fmm":-58,"helm":null,"sp3":null},
      {"panel":"R","snap":4,"z":0.178,"fmm":-36,"helm":null,"sp3":null},
      {"panel":"R","snap":4,"z":0.184,"fmm":-27,"helm":null,"sp3":null},
      {"panel":"R","snap":4,"z":0.158,"fmm":null,"helm":-152,"sp3":null},
      {"panel":"R","snap":4,"z":0.166,"fmm":null,"helm":-164.5,"sp3":null},
      {"panel":"R","snap":4,"z":0.17,"fmm":null,"helm":-152,"sp3":null},
      {"panel":"R","snap":4,"z":0.173,"fmm":null,"helm":-128,"sp3":null},
      {"panel":"R","snap":4,"z":0.176,"fmm":null,"helm":-92,"sp3":null},
      {"panel":"R","snap":4,"z":0.179,"fmm":null,"helm":-58,"sp3":null},
      {"panel":"R","snap":4,"z":0.182,"fmm":null,"helm":-36,"sp3":null},
      {"panel":"R","snap":4,"z":0.187,"fmm":null,"helm":-27,"sp3":-27},
      {"panel":"R","snap":4,"z":0.157,"fmm":null,"helm":null,"sp3":-152},
      {"panel":"R","snap":4,"z":0.164,"fmm":null,"helm":null,"sp3":-161},
      {"panel":"R","snap":4,"z":0.168,"fmm":null,"helm":null,"sp3":-150},
      {"panel":"R","snap":4,"z":0.172,"fmm":null,"helm":null,"sp3":-126},
      {"panel":"R","snap":4,"z":0.175,"fmm":null,"helm":null,"sp3":-90},
      {"panel":"R","snap":4,"z":0.178,"fmm":null,"helm":null,"sp3":-57},
      {"panel":"R","snap":4,"z":0.181,"fmm":null,"helm":null,"sp3":-36},
      {"panel":"R","snap":4,"z":0.2,"fmm":-25.3,"helm":-25.3,"sp3":-25.3},
      {"panel":"R","snap":4,"z":0.22,"fmm":-24.9,"helm":-24.9,"sp3":-24.9},
      {"panel":"R","snap":4,"z":0.245,"fmm":-25,"helm":-25,"sp3":-25},
      {"panel":"R","snap":4,"z":0.263,"fmm":-25.4,"helm":-25.4,"sp3":-25.4},
      {"panel":"R","snap":4,"z":0.286,"fmm":-28.4,"helm":-28.4,"sp3":-28.4},
      {"panel":"R","snap":4,"z":0.305,"fmm":-33,"helm":-33,"sp3":-33},
      {"panel":"R","snap":4,"z":0.325,"fmm":-37,"helm":-37,"sp3":-37},
      {"panel":"R","snap":4,"z":0.345,"fmm":-42,"helm":-42,"sp3":-42},
      {"panel":"R","snap":4,"z":0.358,"fmm":-44,"helm":-44,"sp3":-44},
      {"panel":"R","snap":4,"z":0.374,"fmm":-37,"helm":-37,"sp3":-37},
      {"panel":"R","snap":4,"z":0.39,"fmm":-22,"helm":-22,"sp3":-22},
      {"panel":"R","snap":4,"z":0.406,"fmm":-9.8,"helm":-9.8,"sp3":-9.8},
      {"panel":"R","snap":4,"z":0.42,"fmm":-19,"helm":-19,"sp3":-19},
      {"panel":"R","snap":4,"z":0.435,"fmm":-37,"helm":-37,"sp3":-37},
      {"panel":"R","snap":4,"z":0.452,"fmm":-41,"helm":-41,"sp3":-41},
      {"panel":"R","snap":4,"z":0.472,"fmm":-35,"helm":-35,"sp3":-35},
      {"panel":"R","snap":4,"z":0.492,"fmm":-26,"helm":-26,"sp3":-26},
      {"panel":"R","snap":4,"z":0.512,"fmm":-18,"helm":-18,"sp3":-18},
      {"panel":"R","snap":4,"z":0.53,"fmm":-27,"helm":-27,"sp3":-27},
      {"panel":"R","snap":4,"z":0.548,"fmm":-35,"helm":-35,"sp3":-35},
      {"panel":"R","snap":4,"z":0.56,"fmm":-36.5,"helm":-36.5,"sp3":-36.5},
      {"panel":"R","snap":4,"z":0.577,"fmm":-24,"helm":-24,"sp3":-24},
      {"panel":"R","snap":4,"z":0.594,"fmm":-10.8,"helm":-10.8,"sp3":-10.8},
      {"panel":"R","snap":4,"z":0.61,"fmm":-22,"helm":-22,"sp3":-22},
      {"panel":"R","snap":4,"z":0.63,"fmm":-37,"helm":-37,"sp3":-37},
      {"panel":"R","snap":4,"z":0.652,"fmm":-41.5,"helm":-41.5,"sp3":-41.5},
      {"panel":"R","snap":4,"z":0.68,"fmm":-40,"helm":-40,"sp3":-40},
      {"panel":"R","snap":4,"z":0.71,"fmm":-37,"helm":-37,"sp3":-37},
      {"panel":"R","snap":4,"z":0.75,"fmm":-35,"helm":-35,"sp3":-35},
      {"panel":"R","snap":4,"z":0.794,"fmm":-33.3,"helm":-33.3,"sp3":-33.3},
      {"panel":"R","snap":4,"z":0.85,"fmm":-33,"helm":-33,"sp3":-33},
      {"panel":"R","snap":4,"z":0.885,"fmm":-33.3,"helm":-33.3,"sp3":-33.3},
      {"panel":"R","snap":4,"z":0.895,"fmm":-35,"helm":null,"sp3":null},
      {"panel":"R","snap":4,"z":0.902,"fmm":-42,"helm":null,"sp3":null},
      {"panel":"R","snap":4,"z":0.907,"fmm":-60,"helm":null,"sp3":null},
      {"panel":"R","snap":4,"z":0.911,"fmm":-95,"helm":null,"sp3":null},
      {"panel":"R","snap":4,"z":0.915,"fmm":-128,"helm":null,"sp3":null},
      {"panel":"R","snap":4,"z":0.921,"fmm":-148,"helm":null,"sp3":null},
      {"panel":"R","snap":4,"z":0.928,"fmm":-138,"helm":null,"sp3":null},
      {"panel":"R","snap":4,"z":0.94,"fmm":-122,"helm":null,"sp3":null},
      {"panel":"R","snap":4,"z":0.955,"fmm":-108,"helm":null,"sp3":null},
      {"panel":"R","snap":4,"z":0.97,"fmm":-100,"helm":null,"sp3":null},
      {"panel":"R","snap":4,"z":0.985,"fmm":-95.5,"helm":null,"sp3":null},
      {"panel":"R","snap":4,"z":1,"fmm":-93,"helm":-91.5,"sp3":-92},
      {"panel":"R","snap":4,"z":0.892,"fmm":null,"helm":-35,"sp3":null},
      {"panel":"R","snap":4,"z":0.899,"fmm":null,"helm":-42,"sp3":null},
      {"panel":"R","snap":4,"z":0.904,"fmm":null,"helm":-60,"sp3":null},
      {"panel":"R","snap":4,"z":0.908,"fmm":null,"helm":-95,"sp3":null},
      {"panel":"R","snap":4,"z":0.912,"fmm":null,"helm":-128,"sp3":null},
      {"panel":"R","snap":4,"z":0.917,"fmm":null,"helm":-150,"sp3":null},
      {"panel":"R","snap":4,"z":0.925,"fmm":null,"helm":-139,"sp3":null},
      {"panel":"R","snap":4,"z":0.937,"fmm":null,"helm":-122,"sp3":null},
      {"panel":"R","snap":4,"z":0.953,"fmm":null,"helm":-107,"sp3":null},
      {"panel":"R","snap":4,"z":0.968,"fmm":null,"helm":-98.5,"sp3":null},
      {"panel":"R","snap":4,"z":0.985,"fmm":null,"helm":-94,"sp3":-94.5},
      {"panel":"R","snap":4,"z":0.893,"fmm":null,"helm":null,"sp3":-35},
      {"panel":"R","snap":4,"z":0.9,"fmm":null,"helm":null,"sp3":-42},
      {"panel":"R","snap":4,"z":0.905,"fmm":null,"helm":null,"sp3":-60},
      {"panel":"R","snap":4,"z":0.909,"fmm":null,"helm":null,"sp3":-95},
      {"panel":"R","snap":4,"z":0.913,"fmm":null,"helm":null,"sp3":-128},
      {"panel":"R","snap":4,"z":0.918,"fmm":null,"helm":null,"sp3":-148},
      {"panel":"R","snap":4,"z":0.926,"fmm":null,"helm":null,"sp3":-138},
      {"panel":"R","snap":4,"z":0.938,"fmm":null,"helm":null,"sp3":-122},
      {"panel":"R","snap":4,"z":0.954,"fmm":null,"helm":null,"sp3":-107.5},
      {"panel":"R","snap":4,"z":0.969,"fmm":null,"helm":null,"sp3":-99}
    ]
  },
  "spacing": 124,
  "bounds": "flush",
  "resolve": {"legend": {"color": "independent", "strokeDash": "independent"}},
  "hconcat": [
    {
      "width": 456, "height": 341,
      "data": {"name": "curves"},
      "transform": [
        {"filter": "datum.panel == 'L'"},
        {"fold": ["fmm", "helm", "sp3"], "as": ["method", "E"]},
        {"filter": "isValid(datum.E)"}
      ],
      "resolve": {"axis": {"x": "independent", "y": "independent"}},
      "layer": [
        {
          "transform": [{"filter": "datum.method == 'fmm'"}],
          "mark": {"type": "line", "strokeWidth": 3.8, "interpolate": "monotone"},
          "encoding": {
            "x": {"field": "z", "type": "quantitative", "scale": {"domain": [0, 1], "nice": false},
                  "axis": {"orient": "bottom", "values": [0, 0.2, 0.4, 0.6, 0.8, 1], "labelExpr": "datum.value == 0 ? '0' : datum.value == 1 ? '1' : format(datum.value, '.1f')", "labelPadding": 10, "title": "z (cm)", "titleY": 57, "titleBaseline": "alphabetic", "titleFontSize": 23}},
            "y": {"field": "E", "type": "quantitative", "scale": {"domain": [-200, 0], "nice": false},
                  "axis": {"orient": "left", "values": [-200, -150, -100, -50, 0], "labelExpr": "datum.value == 0 ? '0' : '-' + abs(datum.value)", "labelPadding": 12, "title": "E\u00a0\u00a0\u00a0(kV/cm)", "titleFontSize": 22, "titleAngle": -90, "titleAlign": "left", "titleBaseline": "alphabetic", "titleX": -58, "titleY": 222}},
            "detail": {"field": "snap"},
            "color": {"field": "method", "type": "nominal", "scale": {"domain": ["fmm", "helm", "sp3"], "range": ["#000000", "#ff0000", "#0000ff"]},
                      "legend": {"orient": "none", "legendX": 128, "legendY": 226, "title": null, "symbolType": "M-2.5,0H2.5", "symbolSize": 400, "symbolStrokeWidth": 3.5, "labelFontSize": 20, "labelFont": "Liberation Sans", "labelColor": "#000000", "labelOffset": 19, "labelLimit": 400, "rowPadding": 6.5, "padding": 0, "labelExpr": "datum.label == 'fmm' ? 'FMM classical Int' : datum.label == 'helm' ? 'Helmholtz zero BC' : 'SP\u2083 Larsen BC'"}},
            "strokeDash": {"field": "method", "type": "nominal", "scale": {"domain": ["fmm", "helm", "sp3"], "range": [[1, 0], [12, 8], [3, 2.5]]},
                      "legend": {"orient": "none", "legendX": 128, "legendY": 226, "title": null, "symbolType": "M-2.5,0H2.5", "symbolSize": 400, "symbolStrokeWidth": 3.5, "labelFontSize": 20, "labelFont": "Liberation Sans", "labelColor": "#000000", "labelOffset": 19, "labelLimit": 400, "rowPadding": 6.5, "padding": 0, "labelExpr": "datum.label == 'fmm' ? 'FMM classical Int' : datum.label == 'helm' ? 'Helmholtz zero BC' : 'SP\u2083 Larsen BC'"}}
          }
        },
        {
          "transform": [{"filter": "datum.method == 'helm'"}],
          "mark": {"type": "line", "strokeWidth": 3.2, "interpolate": "monotone"},
          "encoding": {
            "x": {"field": "z", "type": "quantitative", "scale": {"domain": [0, 1], "nice": false},
                  "axis": {"orient": "top", "values": [0, 0.2, 0.4, 0.6, 0.8, 1], "labels": false, "title": null}},
            "y": {"field": "E", "type": "quantitative", "scale": {"domain": [-200, 0], "nice": false},
                  "axis": {"orient": "right", "values": [-200, -150, -100, -50, 0], "labels": false, "title": null}},
            "detail": {"field": "snap"},
            "color": {"field": "method", "type": "nominal"},
            "strokeDash": {"field": "method", "type": "nominal"}
          }
        },
        {
          "transform": [{"filter": "datum.method == 'sp3'"}],
          "mark": {"type": "line", "strokeWidth": 3.2, "interpolate": "monotone"},
          "encoding": {
            "x": {"field": "z", "type": "quantitative", "axis": null},
            "y": {"field": "E", "type": "quantitative",
                  "axis": {"orient": "left", "labels": false, "ticks": false, "domain": false, "title": "z", "titleFontSize": 15, "titleAngle": -90, "titleAlign": "left", "titleBaseline": "alphabetic", "titleX": -51, "titleY": 200}},
            "detail": {"field": "snap"},
            "color": {"field": "method", "type": "nominal"},
            "strokeDash": {"field": "method", "type": "nominal"}
          }
        }
      ]
    },
    {
      "width": 456, "height": 341,
      "data": {"name": "curves"},
      "transform": [
        {"filter": "datum.panel == 'R'"},
        {"fold": ["fmm", "helm", "sp3"], "as": ["method", "E"]},
        {"filter": "isValid(datum.E)"}
      ],
      "resolve": {"axis": {"x": "independent", "y": "independent"}},
      "layer": [
        {
          "transform": [{"filter": "datum.method == 'fmm'"}],
          "mark": {"type": "line", "strokeWidth": 3.8, "interpolate": "monotone"},
          "encoding": {
            "x": {"field": "z", "type": "quantitative", "scale": {"domain": [0, 1], "nice": false},
                  "axis": {"orient": "bottom", "values": [0, 0.2, 0.4, 0.6, 0.8, 1], "labelExpr": "datum.value == 0 ? '0' : datum.value == 1 ? '1' : format(datum.value, '.1f')", "labelPadding": 10, "title": "z (cm)", "titleY": 57, "titleBaseline": "alphabetic", "titleFontSize": 23}},
            "y": {"field": "E", "type": "quantitative", "scale": {"domain": [-200, 0], "nice": false},
                  "axis": {"orient": "left", "values": [-200, -150, -100, -50, 0], "labelExpr": "datum.value == 0 ? '0' : '-' + abs(datum.value)", "labelPadding": 12, "title": "E\u00a0\u00a0\u00a0(kV/cm)", "titleFontSize": 22, "titleAngle": -90, "titleAlign": "left", "titleBaseline": "alphabetic", "titleX": -58, "titleY": 222}},
            "detail": {"field": "snap"},
            "color": {"field": "method", "type": "nominal", "scale": {"domain": ["fmm", "helm", "sp3"], "range": ["#000000", "#ff0000", "#0000ff"]},
                      "legend": {"orient": "none", "legendX": 128, "legendY": 226, "title": null, "symbolType": "M-2.5,0H2.5", "symbolSize": 400, "symbolStrokeWidth": 3.5, "labelFontSize": 20, "labelFont": "Liberation Sans", "labelColor": "#000000", "labelOffset": 19, "labelLimit": 400, "rowPadding": 6.5, "padding": 0, "labelExpr": "datum.label == 'fmm' ? 'FMM classical Int' : datum.label == 'helm' ? 'Helmholtz zero BC' : 'SP\u2083 Larsen BC'"}},
            "strokeDash": {"field": "method", "type": "nominal", "scale": {"domain": ["fmm", "helm", "sp3"], "range": [[1, 0], [12, 8], [3, 2.5]]},
                      "legend": {"orient": "none", "legendX": 128, "legendY": 226, "title": null, "symbolType": "M-2.5,0H2.5", "symbolSize": 400, "symbolStrokeWidth": 3.5, "labelFontSize": 20, "labelFont": "Liberation Sans", "labelColor": "#000000", "labelOffset": 19, "labelLimit": 400, "rowPadding": 6.5, "padding": 0, "labelExpr": "datum.label == 'fmm' ? 'FMM classical Int' : datum.label == 'helm' ? 'Helmholtz zero BC' : 'SP\u2083 Larsen BC'"}}
          }
        },
        {
          "transform": [{"filter": "datum.method == 'helm'"}],
          "mark": {"type": "line", "strokeWidth": 3.2, "interpolate": "monotone"},
          "encoding": {
            "x": {"field": "z", "type": "quantitative", "scale": {"domain": [0, 1], "nice": false},
                  "axis": {"orient": "top", "values": [0, 0.2, 0.4, 0.6, 0.8, 1], "labels": false, "title": null}},
            "y": {"field": "E", "type": "quantitative", "scale": {"domain": [-200, 0], "nice": false},
                  "axis": {"orient": "right", "values": [-200, -150, -100, -50, 0], "labels": false, "title": null}},
            "detail": {"field": "snap"},
            "color": {"field": "method", "type": "nominal"},
            "strokeDash": {"field": "method", "type": "nominal"}
          }
        },
        {
          "transform": [{"filter": "datum.method == 'sp3'"}],
          "mark": {"type": "line", "strokeWidth": 3.2, "interpolate": "monotone"},
          "encoding": {
            "x": {"field": "z", "type": "quantitative", "axis": null},
            "y": {"field": "E", "type": "quantitative",
                  "axis": {"orient": "left", "labels": false, "ticks": false, "domain": false, "title": "z", "titleFontSize": 15, "titleAngle": -90, "titleAlign": "left", "titleBaseline": "alphabetic", "titleX": -51, "titleY": 200}},
            "detail": {"field": "snap"},
            "color": {"field": "method", "type": "nominal"},
            "strokeDash": {"field": "method", "type": "nominal"}
          }
        }
      ]
    }
  ]
}
